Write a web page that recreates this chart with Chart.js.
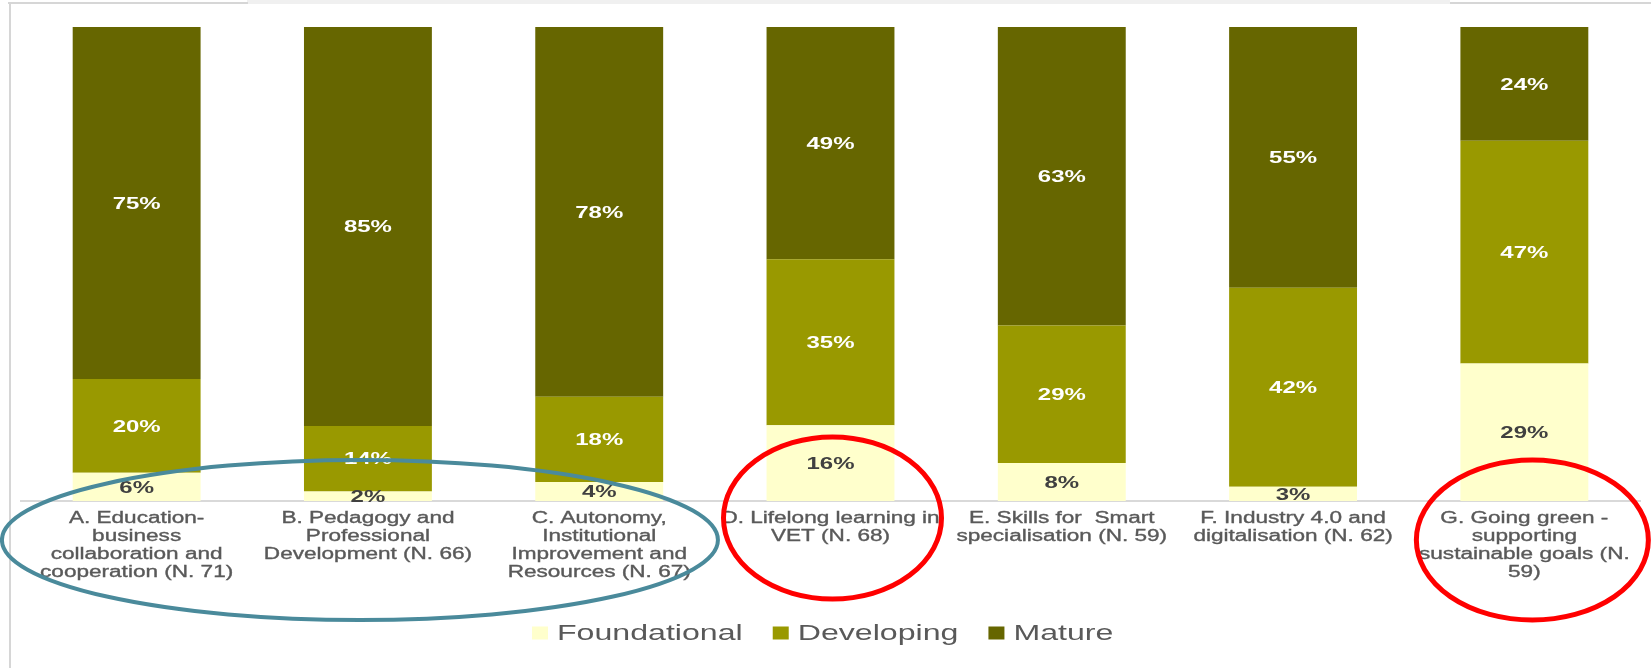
<!DOCTYPE html>
<html>
<head>
<meta charset="utf-8">
<script src="https://cdn.jsdelivr.net/npm/chart.js@4/dist/chart.umd.min.js"></script>
<style>
  html, body { margin: 0; padding: 0; background: #fff; }
  #wrap { position: relative; width: 1651px; height: 668px; overflow: hidden; }
  #wrap canvas { position: absolute; left: 0; top: 0; }
  .edge { position: absolute; background: #d6d6d6; }
  .band { position: absolute; background: #f0f0f0; }
</style>
</head>
<body>
<div id="wrap">
  <div class="band" style="left:247px;top:0;width:1203px;height:4px"></div>
  <div class="edge" style="left:8px;top:2px;width:240px;height:2px"></div>
  <div class="edge" style="left:1450px;top:2px;width:201px;height:2px"></div>
  <div class="edge" style="left:9px;top:2px;width:2px;height:666px"></div>
  <canvas id="chart" width="1651" height="668"></canvas>
</div>
<script>
// categories (x axis, multi-line)
const categories = [
  ['A. Education-', 'business', 'collaboration and', 'cooperation (N. 71)'],
  ['B. Pedagogy and', 'Professional', 'Development (N. 66)'],
  ['C. Autonomy,', 'Institutional', 'Improvement and', 'Resources (N. 67)'],
  ['D. Lifelong learning in', 'VET (N. 68)'],
  ['E. Skills for  Smart', 'specialisation (N. 59)'],
  ['F. Industry 4.0 and', 'digitalisation (N. 62)'],
  ['G. Going green -', 'supporting', 'sustainable goals (N.', '59)']
];
const seriesNames = ['Foundational', 'Developing', 'Mature'];
const foundational = [6, 2, 4, 16, 8, 3, 29];
const developing = [20, 14, 18, 35, 29, 42, 47];
const mature = [75, 85, 78, 49, 63, 55, 24];

const seriesColors = ['#FFFFCC', '#999900', '#666600'];
const labelColors = ['#404040', '#ffffff', '#ffffff'];
const FONT = '"Liberation Sans", Arial, sans-serif';
const STRETCH = 1.41; // the source picture is widened horizontally

const series = [foundational, developing, mature];
const totals = categories.map((c, i) => series.reduce((s, arr) => s + arr[i], 0));

// hand-drawn highlights: [first category, last category, dx, cy, rx, ry, colour, width]
const highlights = [
  [0, 2, -8, 540, 358, 80, '#4a8a9b', 4],
  [3, 3, 2, 518, 109, 81, '#ff0000', 5],
  [6, 6, 8, 540, 116, 80, '#ff0000', 5]
];

function stretchedText(ctx, text, x, y, k, stroke) {
  ctx.save();
  ctx.translate(x, y);
  ctx.scale(k || STRETCH, 1);
  if (stroke) ctx.strokeText(text, 0, 0);
  ctx.fillText(text, 0, 0);
  ctx.restore();
}

const decorations = {
  id: 'decorations',
  afterDatasetsDraw(chart) {
    const ctx = chart.ctx;
    // value labels
    ctx.save();
    ctx.font = 'bold 17px ' + FONT;
    ctx.textAlign = 'center';
    ctx.textBaseline = 'middle';
    chart.data.datasets.forEach((ds, di) => {
      const meta = chart.getDatasetMeta(di);
      meta.data.forEach((el, i) => {
        const p = el.getProps(['x', 'y', 'base'], true);
        ctx.fillStyle = labelColors[di];
        stretchedText(ctx, series[di][i] + '%', p.x, (p.y + p.base) / 2 + 1);
      });
    });
    // category labels
    const xs = chart.scales.x;
    ctx.font = '16px ' + FONT;
    ctx.fillStyle = '#595959';
    ctx.strokeStyle = '#595959';
    ctx.lineWidth = 0.35;
    categories.forEach((lines, i) => {
      const cx = xs.getPixelForValue(i);
      lines.forEach((t, k) => stretchedText(ctx, t, cx, 519 + k * 18, STRETCH, true));
    });
    ctx.restore();
  },
  afterDraw(chart) {
    const ctx = chart.ctx;
    const xs = chart.scales.x;
    // legend
    const k = 1.46;
    ctx.save();
    ctx.font = '22px ' + FONT;
    ctx.textBaseline = 'middle';
    ctx.textAlign = 'left';
    let x = 532;
    const ly = 633;
    seriesNames.forEach((name, i) => {
      ctx.fillStyle = seriesColors[i];
      ctx.fillRect(x, ly - 6.5, 16, 13);
      x += 25;
      ctx.fillStyle = '#595959';
      stretchedText(ctx, name, x, ly + 1, k);
      x += ctx.measureText(name).width * k + 30;
    });
    // highlight ellipses
    highlights.forEach(h => {
      const cx = (xs.getPixelForValue(h[0]) + xs.getPixelForValue(h[1])) / 2 + h[2];
      ctx.beginPath();
      ctx.ellipse(cx, h[3], h[4], h[5], 0, 0, Math.PI * 2);
      ctx.strokeStyle = h[6];
      ctx.lineWidth = h[7];
      ctx.stroke();
    });
    ctx.restore();
  }
};

new Chart(document.getElementById('chart'), {
  type: 'bar',
  data: {
    labels: categories.map(c => c.join(' ')),
    datasets: series.map((arr, di) => ({
      label: seriesNames[di],
      data: arr.map((v, i) => v / totals[i] * 100),
      backgroundColor: seriesColors[di],
      borderWidth: 0,
      categoryPercentage: 1,
      barPercentage: 0.553
    }))
  },
  options: {
    responsive: false,
    animation: false,
    layout: { padding: { left: 21, right: 11, top: 27, bottom: 167 } },
    plugins: { legend: { display: false }, tooltip: { enabled: false } },
    scales: {
      x: {
        stacked: true,
        grid: { display: false },
        ticks: { display: false },
        border: { display: true, color: '#d9d9d9', width: 2 },
        afterFit: s => { s.height = 0; }
      },
      y: {
        stacked: true,
        display: false,
        min: 0,
        max: 100
      }
    }
  },
  plugins: [decorations]
});
</script>
</body>
</html>
